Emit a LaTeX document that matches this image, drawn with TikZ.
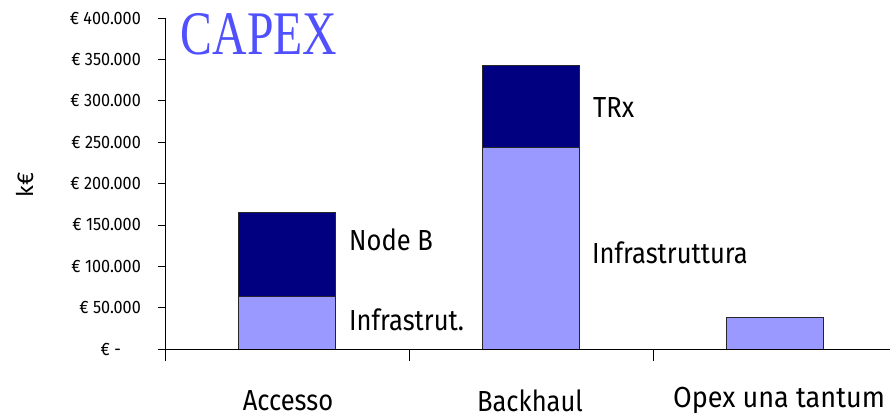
\documentclass[tikz,border=0pt]{standalone}
\usepackage{fontspec}
\setmainfont{Fira Sans}
\newfontfamily\capexfont{Liberation Serif}
\usetikzlibrary{positioning}
\definecolor{barDark}{RGB}{0,0,128}
\definecolor{barLight}{RGB}{153,153,255}
\definecolor{capexBlue}{RGB}{80,80,255}

\begin{document}
\begin{tikzpicture}[x=1pt,y=0.8275pt,
  bar/.style={draw=black!85,line width=0.9pt},
  ticklbl/.style={font=\fontsize{18}{20}\selectfont,anchor=east,inner sep=0,xscale=0.9},
  lbl/.style={font=\fontsize{29}{34}\selectfont,inner sep=0,xscale=0.88}]
\useasboundingbox (-165,-82.2) rectangle (725,421.8);
% bars
\draw[bar,fill=barLight] (73.5,0) rectangle (170.5,63.6);
\draw[bar,fill=barDark] (73.5,63.6) rectangle (170.5,165.6);
\draw[bar,fill=barLight] (317.5,0) rectangle (414.5,244);
\draw[bar,fill=barDark] (317.5,244) rectangle (414.5,343);
\draw[bar,fill=barLight] (561.5,0) rectangle (658.5,38);
% axes
\draw[line width=0.8pt] (0,-14.5)--(0,400);
\draw[line width=0.8pt] (-7,0)--(725,0);
\foreach \x in {244,488}
  \draw[line width=0.8pt] (\x,0)--(\x,-14.5);
\foreach \v/\t in {50/50.000,100/100.000,150/150.000,200/200.000,250/250.000,300/300.000,350/350.000,400/400.000}{
  \draw[line width=0.8pt] (-7,\v)--(0,\v);
  \node[ticklbl] (tick\v) at (-24,\v) {€ \t};
}
\node[ticklbl] (tick0) at (-44,0) {€ -};
\node[rotate=90,inner sep=0,font=\fontsize{23}{26}\selectfont] (unit) at (-140,198) {k€};
\node[inner sep=0,text=capexBlue,xscale=0.77,font=\capexfont\fontsize{62}{70}\selectfont] (title) at (94,380.7) {CAPEX};
% labels
\node[lbl,anchor=west] (nodeb) at (184,131.7) {Node B};
\node[lbl,anchor=west] (infraA) at (184,35) {Infrastrut.};
\node[lbl,anchor=west] (trx) at (428,292.4) {TRx};
\node[lbl,anchor=west] (infraB) at (427,116) {Infrastruttura};
\node[lbl] (accesso) at (123,-62) {Accesso};
\node[lbl] (backhaul) at (365,-62) {Backhaul};
\node[lbl,xscale=1.06] (opex) at (614,-62) {Opex una tantum};
\end{tikzpicture}
\end{document}
